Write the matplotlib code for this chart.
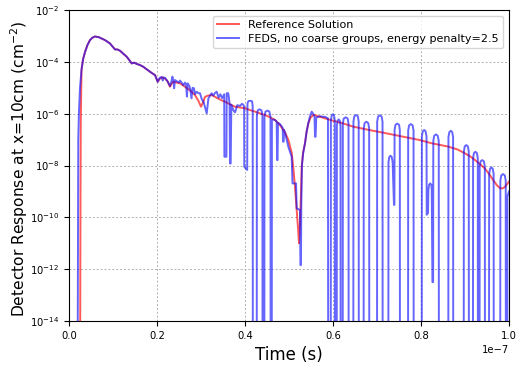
import numpy as np
import matplotlib
matplotlib.use("Agg")
import matplotlib.pyplot as plt
from matplotlib.ticker import NullLocator

# ---------------- data (time in ns, response as log10) ----------------
ref_t_ns = [2.45, 2.55, 2.62, 2.68, 2.85, 3.20, 3.64, 4.20, 4.77, 5.30, 5.91, 6.80,
            8.18, 9.32, 10.45, 11.00, 11.59, 12.30, 13.11, 13.70, 14.25, 14.80, 15.39,
            16.10, 16.89, 17.60, 18.41, 19.00, 19.55, 20.16, 20.60, 21.07, 21.82, 22.40,
            22.95, 23.30, 23.70, 24.50, 25.23, 26.36, 27.50, 28.64, 29.40, 30.00, 30.50,
            30.91, 31.60, 32.43, 33.50, 34.50, 35.50, 36.60, 37.73, 38.86, 40.00, 41.14,
            42.27, 43.40, 44.55, 45.70, 46.82, 48.00, 49.09, 49.84, 50.61, 51.00, 51.36,
            51.75, 52.05, 52.27, 52.50, 52.73, 52.89, 53.20, 53.64, 54.00, 54.39, 54.90,
            55.52, 56.30, 57.05, 58.18, 60.00, 62.00, 64.61, 68.00, 72.20, 76.00, 79.80,
            82.40, 86.20, 88.30, 90.00, 91.20, 92.30, 93.40, 94.50, 95.50, 96.40, 97.20,
            98.00, 98.60, 99.10, 100.0]
ref_log10 = [-20, -14.0, -9.0, -6.3, -4.3, -3.9, -3.62, -3.35, -3.16, -3.07, -3.02, -3.05,
             -3.16, -3.29, -3.52, -3.52, -3.57, -3.68, -3.80, -3.93, -4.06, -4.03, -4.08,
             -4.12, -4.19, -4.28, -4.38, -4.45, -4.51, -4.77, -4.66, -4.60, -4.64, -4.75,
             -4.96, -4.85, -4.77, -4.80, -4.83, -4.96, -5.10, -5.28, -5.50, -5.73, -5.55,
             -5.35, -5.30, -5.28, -5.38, -5.47, -5.54, -5.64, -5.73, -5.76, -5.79, -5.86,
             -5.92, -5.99, -6.05, -6.14, -6.24, -6.45, -6.72, -7.00, -7.50, -8.10, -8.82,
             -9.72, -10.4, -11.0, -10.3, -9.07, -8.05, -7.50, -7.14, -6.70, -6.37, -6.15,
             -6.05, -6.08, -6.12, -6.18, -6.27, -6.36, -6.50, -6.62, -6.76, -6.89, -7.02,
             -7.14, -7.27, -7.38, -7.53, -7.65, -7.79, -7.95, -8.11, -8.33, -8.56, -8.75,
             -8.88, -8.88, -8.82, -8.62]

feds_t_ns = [
    # rise and smooth decay
    1.90, 1.98, 2.05, 2.11, 2.25, 2.50, 2.85, 3.20, 3.64, 4.20, 4.77, 5.30, 5.91, 6.80,
    8.18, 9.32, 10.45, 11.00, 11.59, 12.30, 13.11, 13.70, 14.25, 14.80, 15.39, 16.10,
    16.89, 17.60, 18.41, 19.00, 19.55,
    # noisy part
    20.16, 20.60, 21.07, 21.30, 21.50, 21.82, 22.40, 22.95, 23.30, 23.50, 23.70, 23.90,
    24.09, 24.50, 25.00, 25.23, 25.60, 26.00, 26.36, 26.60, 26.80, 27.00, 27.40, 27.60,
    27.85, 28.10, 28.40, 28.64, 29.00, 29.40, 29.77, 30.20, 30.60, 31.30, 31.70, 32.43,
    32.80, 33.18, 33.57, 34.00, 34.40, 34.80, 35.28, 35.32, 35.78, 35.84,
    36.20, 36.50, 36.59, 36.75, 36.90, 37.34, 37.73, 38.25, 38.86, 39.30, 39.61, 39.80,
    39.84, 40.50, 40.56, 40.75, 41.14, 41.60, 41.75, 41.80,
    # pulses 42-46 ns
    42.66, 42.70, 42.90, 43.30, 43.75, 43.96, 44.00,
    44.39, 44.43, 44.65, 45.10, 45.55, 45.80, 45.84,
    # dip near 52 ns
    46.07, 46.12, 46.43, 46.82, 47.20, 47.30, 47.40, 47.50, 47.95, 48.57, 48.65, 48.80,
    48.86, 49.09, 49.84, 50.61, 50.80, 51.60, 51.75, 52.50, 52.60, 52.72, 52.80, 52.95,
    53.20, 53.64, 54.00, 54.39, 54.77, 55.16, 55.50, 55.80, 55.91, 56.05, 56.20, 56.66,
    57.05, 57.80, 58.18, 58.86, 58.93,
    # pulse train
    59.48, 59.52, 59.70, 59.97, 60.25, 60.41, 60.45,
    60.84, 60.88, 61.05, 61.30, 61.55, 61.71, 61.75,
    62.20, 62.24, 62.42, 62.90, 63.35, 63.53, 63.57,
    64.61, 64.65, 64.85, 65.25, 65.65, 65.84, 65.88,
    66.95, 66.99, 67.20, 67.60, 68.00, 68.22, 68.26,
    70.00, 70.04, 70.25, 70.65, 71.05, 71.26, 71.30,
    72.57, 72.61, 72.80, 73.07, 73.35, 73.55, 73.86, 73.96, 74.00,
    74.20, 74.62, 75.02, 75.19, 75.23,
    77.05, 77.09, 77.30, 77.70, 78.10, 78.31, 78.35,
    80.16, 80.20, 80.40, 80.73, 81.05, 81.26, 81.30, 81.60,
    81.68, 81.85, 82.10, 82.35, 82.45, 82.60, 82.76,
    82.80, 83.00, 83.40, 83.80, 84.04, 84.08,
    86.20, 86.24, 86.45, 86.77, 87.10, 87.30, 87.34,
    89.70, 89.74, 89.95, 90.30, 90.65, 90.86, 90.90,
    91.80, 91.84, 92.03, 92.37, 92.71, 92.91, 92.95,
    93.30, 93.34, 93.55, 93.92, 94.30, 94.51, 94.55,
    95.45, 95.49, 95.70, 96.00, 96.30, 96.51, 96.55,
    98.00, 98.04, 98.25, 98.65, 99.05, 99.26, 99.30,
    99.60, 99.64, 100.0]
feds_log10 = [
    -20, -14.5, -10.0, -7.0, -6.0, -5.0, -4.3, -3.9, -3.62, -3.35, -3.16, -3.07, -3.02, -3.05,
    -3.16, -3.29, -3.52, -3.52, -3.57, -3.68, -3.80, -3.93, -4.06, -4.03, -4.08, -4.12,
    -4.19, -4.28, -4.38, -4.45, -4.51,
    -4.77, -4.62, -4.58, -4.72, -4.60, -4.62, -4.75, -4.93, -4.75, -4.57, -4.72, -5.02,
    -4.70, -4.75, -4.80, -4.72, -4.80, -4.90, -4.80, -4.85, -5.34, -4.83, -4.95, -5.09,
    -5.41, -5.00, -5.02, -5.25, -5.15, -5.21, -5.21, -5.45, -5.55, -5.99, -5.40, -5.21,
    -5.30, -5.20, -5.15, -5.38, -5.25, -5.40, -5.25, -7.66, -7.66, -5.21,
    -5.21, -5.60, -7.92, -7.92, -5.65, -5.86, -5.95, -5.67, -5.70, -5.62, -5.65, -5.72,
    -8.05, -8.17, -5.62, -5.52, -5.50, -5.52, -5.70, -20,
    -20, -6.08, -5.87, -5.83, -5.87, -6.08, -20,
    -20, -6.13, -5.92, -5.88, -5.92, -6.13, -20,
    -20, -6.25, -6.22, -6.25, -6.30, -7.79, -7.79, -6.35, -6.40, -6.55, -7.08, -7.08,
    -6.62, -6.72, -7.27, -7.66, -8.69, -8.69, -9.65, -9.72, -11.84, -11.84, -9.50, -8.00,
    -7.55, -7.14, -6.70, -6.37, -6.10, -5.92, -6.00, -6.10, -6.89, -6.89, -6.15, -6.12,
    -6.10, -6.12, -6.12, -6.18, -20,
    -20, -6.27, -6.07, -6.02, -6.07, -6.27, -20,
    -20, -6.47, -6.27, -6.22, -6.27, -6.47, -20,
    -20, -6.39, -6.19, -6.14, -6.19, -6.39, -20,
    -20, -6.30, -6.10, -6.05, -6.10, -6.30, -20,
    -20, -6.56, -6.36, -6.31, -6.36, -6.56, -20,
    -20, -6.31, -6.11, -6.06, -6.11, -6.31, -20,
    -20, -7.87, -7.67, -7.62, -7.67, -7.85, -9.52, -9.52, -6.63,
    -6.43, -6.38, -6.43, -6.63, -20,
    -20, -6.65, -6.45, -6.40, -6.45, -6.65, -20,
    -20, -6.88, -6.68, -6.63, -6.68, -6.88, -9.90, -9.83,
    -8.94, -8.74, -8.69, -8.74, -8.94, -12.5, -12.5,
    -7.05, -6.85, -6.80, -6.85, -7.05, -20,
    -20, -6.91, -6.71, -6.66, -6.71, -6.91, -20,
    -20, -7.46, -7.26, -7.21, -7.26, -7.46, -20,
    -20, -7.72, -7.52, -7.47, -7.52, -7.72, -20,
    -20, -8.04, -7.84, -7.79, -7.84, -8.04, -20,
    -20, -8.32, -8.12, -8.07, -8.12, -8.32, -20,
    -20, -8.58, -8.38, -8.33, -8.38, -8.58, -20,
    -20, -9.20, -9.00]

x_ticks = [0.0, 0.2e-7, 0.4e-7, 0.6e-7, 0.8e-7, 1.0e-7]
y_ticks = [1e-14, 1e-12, 1e-10, 1e-8, 1e-6, 1e-4, 1e-2]
ref_label = "Reference Solution"
feds_label = "FEDS, no coarse groups, energy penalty=2.5"

# ---------------- plot ----------------
t_ref = np.array(ref_t_ns) * 1e-9
y_ref = 10.0 ** np.array(ref_log10)
t_feds = np.array(feds_t_ns) * 1e-9
y_feds = 10.0 ** np.array(feds_log10)

fig = plt.figure(figsize=(5.16, 3.65), dpi=100)
ax = fig.add_axes([0.1337, 0.1205, 0.8527, 0.852])

ax.plot(t_ref, y_ref, color="red", alpha=0.65, lw=1.4, label=ref_label)
ax.plot(t_feds, y_feds, color="blue", alpha=0.6, lw=1.4, label=feds_label)

ax.set_yscale("log")
ax.set_xlim(0, 1e-7)
ax.set_ylim(1e-14, 1e-2)
ax.set_xticks(x_ticks)
ax.set_yticks(y_ticks)
ax.yaxis.set_minor_locator(NullLocator())
ax.tick_params(axis="both", labelsize=7.2)
ax.xaxis.get_offset_text().set_fontsize(7.2)

ax.grid(True, color="#b0b0b0", linestyle=(0, (2, 2)), linewidth=0.7)

ax.set_xlabel("Time (s)", fontsize=12)
ax.set_ylabel("Detector Response at x=10cm (cm$^{-2}$)", fontsize=11.2)
ax.yaxis.set_label_coords(-0.089, 0.49)

ax.legend(loc="upper right", fontsize=8, handlelength=2.0, borderpad=0.4,
          labelspacing=0.35)

fig.savefig("out.png", dpi=100)
